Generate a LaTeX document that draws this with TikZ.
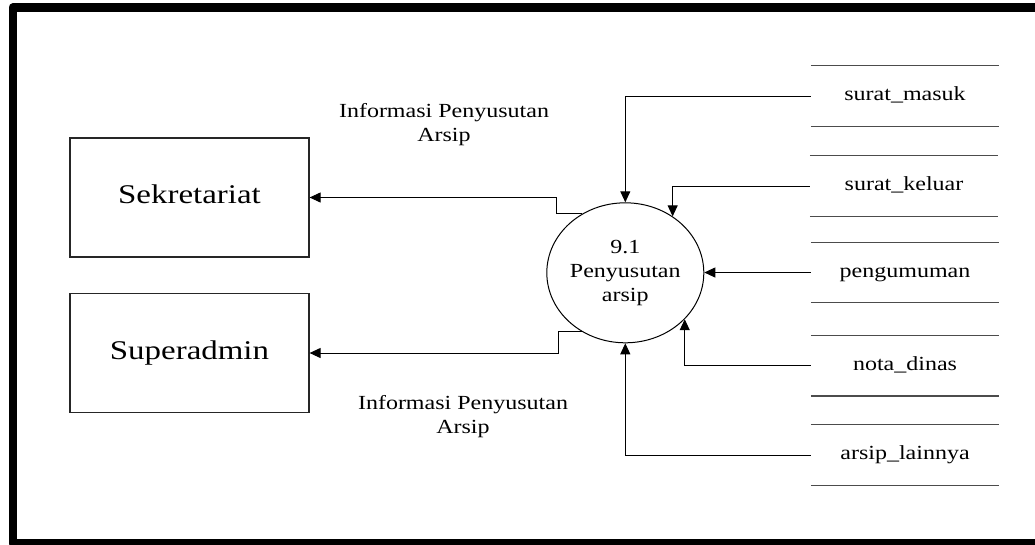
\documentclass[tikz,border=0pt]{standalone}
\usepackage{fontspec}
\setmainfont{Liberation Serif}
\usetikzlibrary{arrows.meta,shapes.geometric}
% horizontally widened, centred text block
\newcommand{\wtext}[2][1.2]{\scalebox{#1}[1]{\begin{tabular}{@{}c@{}}#2\end{tabular}}}
\begin{document}
\begin{tikzpicture}[x=1pt,y=-1pt,
  smalltext/.style={font=\fontsize{20}{24}\selectfont, inner sep=0pt},
  entity/.style={draw=black!85, line width=1.2pt, minimum width=239pt,
    minimum height=119pt, inner sep=0pt, font=\fontsize{27}{32}\selectfont},
  process/.style={ellipse, draw, line width=1pt, minimum width=157pt,
    minimum height=140pt, inner sep=0pt, font=\fontsize{20}{24}\selectfont},
  store/.style={minimum width=188pt, minimum height=60pt, inner sep=0pt,
    font=\fontsize{20}{24}\selectfont},
  storeline/.style={draw=black!70, line width=1.3pt},
  flow/.style={draw, line width=1pt, -{Triangle[length=11pt,width=10pt]}},
]
\useasboundingbox (0,0) rectangle (1035,544);
\clip (0,0) rectangle (1035,544);

% outer frame
\draw[line width=8.5pt, line join=round] (12.75,7.5) rectangle (1060,543.5);

% external entities
\node[entity] (sek) at (189.5,197.5) {\wtext[1.22]{Sekretariat}};
\node[entity] (sup) at (189.5,353) {\wtext[1.22]{Superadmin}};

% process
\node[process] (p) at (625.3,272.8) {\wtext{9.1\\Penyusutan\\arsip}};

% data stores
\node[store] (sm) at (905,96) {\wtext{surat\_masuk}};
\node[store] (sk) at (904,186) {\wtext{surat\_keluar}};
\node[store] (pg) at (905,272.5) {\wtext{pengumuman}};
\node[store] (nd) at (905,365.7) {\wtext{nota\_dinas}};
\node[store] (al) at (905,455) {\wtext{arsip\_lainnya}};
\foreach \s in {sm,sk,pg,nd,al} {
  \draw[storeline] (\s.north west) -- (\s.north east);
  \draw[storeline] (\s.south west) -- (\s.south east);
}

% flows into the process
\draw[flow] (sm.west) -| (p.north);
\draw[flow] (sk.west) -| (p.50.6);
\draw[flow] (pg.west) -- (pg.west -| p.east);
\draw[flow] (nd.west) -| (p.-38.4);
\draw[flow] (al.west) -| (p.south);

% flows out to the entities
\draw[flow] (p.126) -- ++(-26,0) |- (sek.east);
\draw[flow] (p.234) -- ++(-24,0) |- (sup.east);

% flow labels
\node[smalltext] (l1) at (444,125) {\wtext{Informasi Penyusutan\\Arsip}};
\node[smalltext] (l2) at (463,417) {\wtext{Informasi Penyusutan\\Arsip}};
\end{tikzpicture}
\end{document}
